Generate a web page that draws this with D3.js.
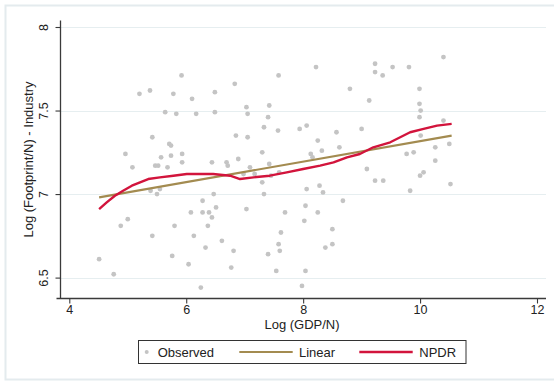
<!DOCTYPE html>
<html>
<head>
<meta charset="utf-8">
<script src="https://cdn.jsdelivr.net/npm/d3@7"></script>
<style>
  html, body { margin: 0; padding: 0; background: #ffffff; }
  svg { display: block; }
  text { font-family: "Liberation Sans", Arial, sans-serif; fill: #222; }
</style>
</head>
<body>
<script>
// Observed countries: log GDP per capita vs log industry footprint per capita
const obsX = [
  5.92, 5.20, 5.38, 5.78, 6.10, 6.49, 5.64, 5.83, 6.17, 6.49,
  5.42, 5.71, 5.74, 4.96, 5.57, 5.74, 5.93, 6.83, 7.58, 8.22,
  9.23, 9.23, 9.36, 8.80, 9.13, 7.03, 7.05, 7.42, 7.40, 7.33,
  7.57, 7.94, 8.06, 9.00, 8.57, 6.85, 7.05, 8.25, 8.32, 8.62,
  7.30, 6.89, 8.13, 9.53, 9.81, 10.40, 9.99, 9.99, 10.01, 9.99,
  10.40, 10.01, 10.26, 10.50, 9.77, 9.89, 5.93, 5.08, 5.47, 5.52,
  5.68, 6.44, 6.69, 6.71, 5.39, 5.55, 5.50, 6.47, 6.28, 6.08,
  6.28, 6.39, 6.51, 6.44, 5.00, 4.88, 5.80, 6.37, 5.42, 6.13,
  6.61, 6.33, 5.76, 4.51, 6.04, 6.77, 4.76, 6.25, 7.09, 7.42,
  7.45, 7.59, 8.16, 7.17, 6.98, 7.30, 7.33, 8.06, 8.28, 8.34,
  8.68, 9.09, 9.23, 9.37, 7.03, 7.69, 8.04, 8.25, 8.02, 7.62,
  8.50, 6.81, 7.58, 7.60, 7.40, 8.38, 8.50, 7.54, 8.04, 7.98,
  10.26, 10.00, 10.06, 9.83, 10.52
];
const obsY = [
  7.71, 7.60, 7.62, 7.60, 7.57, 7.61, 7.49, 7.48, 7.48, 7.49,
  7.34, 7.30, 7.29, 7.24, 7.22, 7.23, 7.24, 7.66, 7.71, 7.76,
  7.78, 7.73, 7.71, 7.63, 7.56, 7.52, 7.48, 7.53, 7.46, 7.40,
  7.38, 7.39, 7.41, 7.39, 7.37, 7.35, 7.34, 7.32, 7.26, 7.28,
  7.25, 7.21, 7.24, 7.76, 7.76, 7.82, 7.63, 7.54, 7.50, 7.46,
  7.44, 7.35, 7.28, 7.30, 7.24, 7.25, 7.19, 7.16, 7.17, 7.17,
  7.16, 7.19, 7.19, 7.17, 7.02, 7.03, 7.00, 7.00, 6.96, 6.89,
  6.89, 6.89, 6.92, 6.86, 6.85, 6.81, 6.81, 6.81, 6.75, 6.75,
  6.72, 6.68, 6.63, 6.61, 6.58, 6.56, 6.52, 6.44, 7.16, 7.18,
  7.11, 7.13, 7.22, 7.12, 7.12, 7.07, 7.00, 7.03, 7.05, 7.01,
  6.96, 7.15, 7.08, 7.08, 6.91, 6.89, 6.93, 6.89, 6.84, 6.77,
  6.79, 6.66, 6.70, 6.66, 6.64, 6.68, 6.70, 6.54, 6.54, 6.45,
  7.20, 7.11, 7.13, 7.02, 7.06
];

// Linear fit endpoints
const linX = [4.51, 10.54];
const linY = [6.98, 7.35];

// Nonparametric (NPDR) fit
const npX = [
  4.51, 4.64, 4.78, 4.92, 5.07, 5.21, 5.35, 5.55, 5.78, 6.01,
  6.24, 6.46, 6.75, 6.92, 7.15, 7.43, 7.72, 8.00, 8.29, 8.52,
  8.75, 8.97, 9.20, 9.49, 9.83, 10.06, 10.29, 10.54
];
const npY = [
  6.91, 6.95, 6.99, 7.02, 7.05, 7.07, 7.09, 7.10, 7.11, 7.12,
  7.12, 7.12, 7.11, 7.09, 7.10, 7.11, 7.13, 7.15, 7.17, 7.19,
  7.22, 7.24, 7.28, 7.31, 7.37, 7.39, 7.41, 7.42
];

const xTicks = [4, 6, 8, 10, 12];
const yTicks = [6.5, 7, 7.5, 8];
const legendLabels = ["Observed", "Linear", "NPDR"];

const W = 554, H = 381;
const colPoint = "#c4c4c4", colLinear = "#a38b50", colNp = "#d2143c";
const colAxis = "#3a3a3a", colGrid = "#e6eef0";

const svg = d3.select("body").append("svg").attr("width", W).attr("height", H);

// outer graph region outline
svg.append("rect")
  .attr("x", 5.5).attr("y", 5.5).attr("width", 600).attr("height", 374)
  .attr("fill", "none").attr("stroke", "#e4ebee").attr("stroke-width", 2);

const plotLeft = 60.5, plotRight = 546, plotTop = 20.5, plotBottom = 298.5;

const x = d3.scaleLinear().domain([4, 12]).range([69.3, 537]);
const y = d3.scaleLinear().domain([6.5, 8]).range([277.6, 27]);

// horizontal gridlines
svg.append("g").selectAll("line").data(yTicks).join("line")
  .attr("x1", plotLeft + 0.5).attr("x2", plotRight)
  .attr("y1", d => Math.round(y(d)) + 0.5).attr("y2", d => Math.round(y(d)) + 0.5)
  .attr("stroke", colGrid).attr("stroke-width", 1.2);

// y axis
const yAxis = d3.axisLeft(y).tickValues(yTicks).tickSize(5).tickPadding(0)
  .tickFormat(d3.format("~g"));
const gy = svg.append("g").attr("transform", `translate(${plotLeft},0)`).call(yAxis);
gy.select(".domain").attr("d", `M0,${plotTop}V${plotBottom}`).attr("stroke", colAxis).attr("stroke-width", 1.3);
gy.selectAll(".tick line").attr("stroke", colAxis).attr("stroke-width", 1.1);
gy.selectAll(".tick text")
  .attr("x", null).attr("dy", null)
  .attr("transform", "translate(-13,0) rotate(-90)")
  .attr("text-anchor", "middle")
  .attr("font-size", "12.5px").attr("fill", "#222");

// x axis
const xAxis = d3.axisBottom(x).tickValues(xTicks).tickSize(5).tickPadding(0)
  .tickFormat(d3.format("~g"));
const gx = svg.append("g").attr("transform", `translate(0,${plotBottom})`).call(xAxis);
gx.select(".domain").attr("d", `M${plotLeft - 4},0H${plotRight}`).attr("stroke", colAxis).attr("stroke-width", 1.3);
gx.selectAll(".tick line").attr("stroke", colAxis).attr("stroke-width", 1.1);
gx.selectAll(".tick text")
  .attr("y", 15.5).attr("dy", null)
  .attr("font-size", "12.5px").attr("fill", "#222");

// axis titles
svg.append("text")
  .attr("x", 302).attr("y", 328.5).attr("text-anchor", "middle")
  .attr("font-size", "13px").text("Log (GDP/N)");
svg.append("text")
  .attr("transform", `translate(33,${(plotTop + plotBottom) / 2}) rotate(-90)`)
  .attr("text-anchor", "middle")
  .attr("font-size", "13px").text("Log (Footprint/N) - Industry");

// observed points
const pts = obsX.map((v, i) => ({ x: v, y: obsY[i] }));
svg.append("g").selectAll("circle").data(pts).join("circle")
  .attr("cx", d => x(d.x)).attr("cy", d => y(d.y)).attr("r", 2.4)
  .attr("fill", colPoint);

const line = d3.line().x(d => x(d.x)).y(d => y(d.y));

// linear fit
svg.append("path")
  .datum(linX.map((v, i) => ({ x: v, y: linY[i] })))
  .attr("d", line).attr("fill", "none")
  .attr("stroke", colLinear).attr("stroke-width", 2.2);

// NPDR fit
svg.append("path")
  .datum(npX.map((v, i) => ({ x: v, y: npY[i] })))
  .attr("d", line).attr("fill", "none")
  .attr("stroke", colNp).attr("stroke-width", 2.4).attr("stroke-linejoin", "round");

// legend
const lg = svg.append("g");
lg.append("rect")
  .attr("x", 138.5).attr("y", 340.5).attr("width", 327.5).attr("height", 23)
  .attr("fill", "#fff").attr("stroke", "#333").attr("stroke-width", 1);
const ly = 352;
lg.append("circle").attr("cx", 146.7).attr("cy", ly).attr("r", 2).attr("fill", colPoint);
lg.append("line").attr("x1", 239.3).attr("x2", 292.7).attr("y1", ly).attr("y2", ly)
  .attr("stroke", colLinear).attr("stroke-width", 2.2);
lg.append("line").attr("x1", 359.3).attr("x2", 412.7).attr("y1", ly).attr("y2", ly)
  .attr("stroke", colNp).attr("stroke-width", 2.4);
const labelX = [157.7, 299, 419.3];
legendLabels.forEach((t, i) => {
  lg.append("text").attr("x", labelX[i]).attr("y", 356.5)
    .attr("font-size", "13px").text(t);
});
</script>
</body>
</html>
